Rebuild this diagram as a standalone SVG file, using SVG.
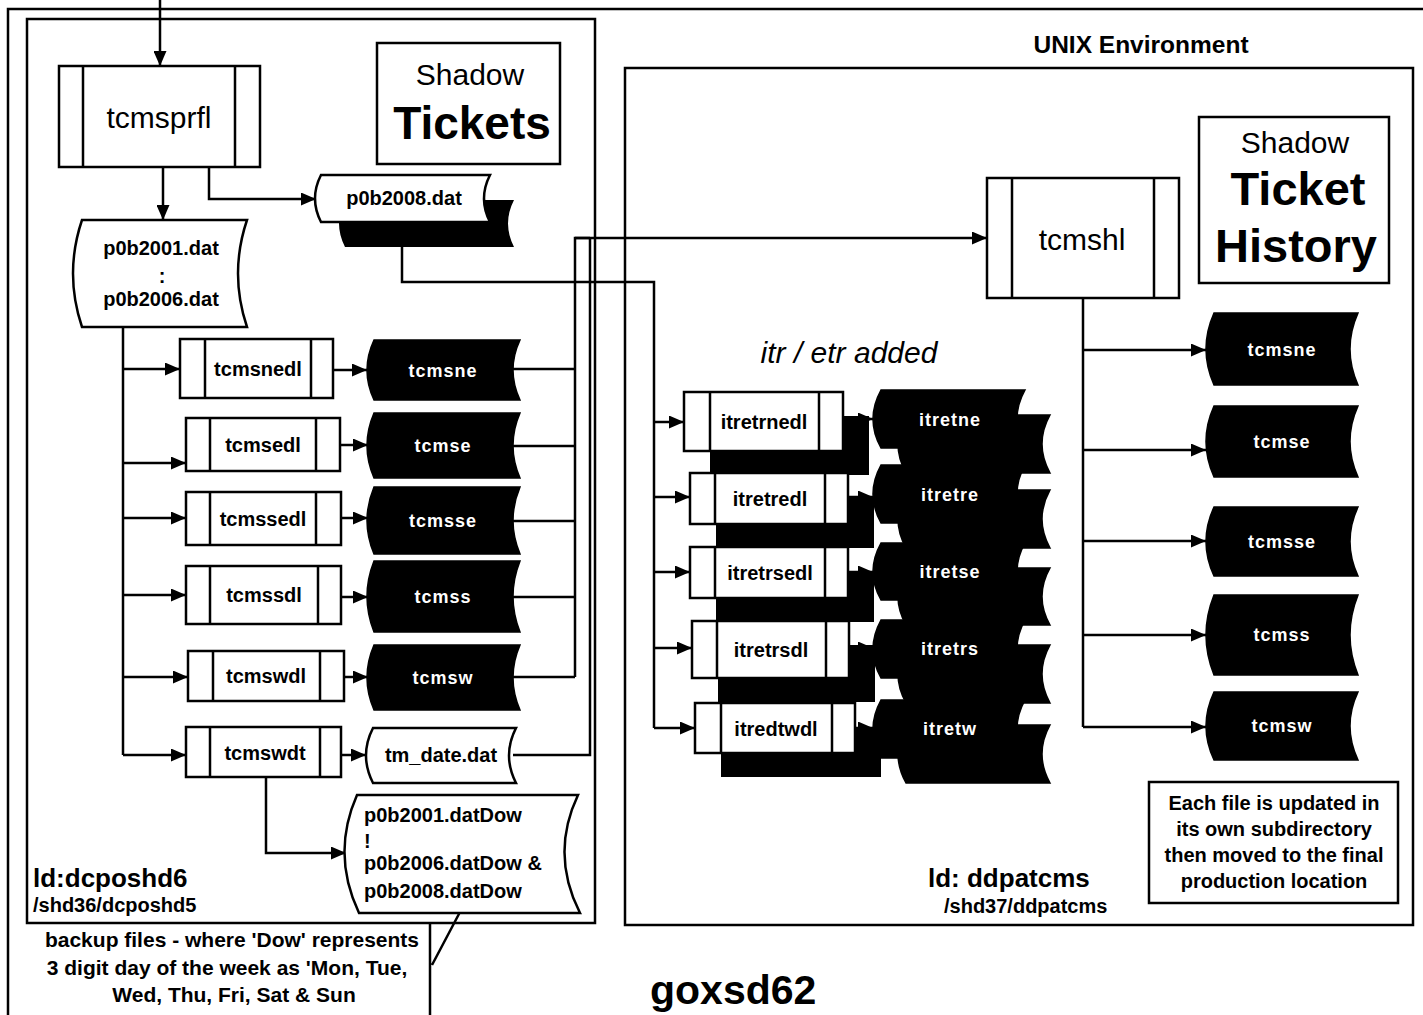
<svg xmlns="http://www.w3.org/2000/svg" width="1423" height="1015" viewBox="0 0 1423 1015">
<defs>
<marker id="ah" markerUnits="userSpaceOnUse" markerWidth="15" markerHeight="13" refX="15" refY="6.5" orient="auto"><path d="M0,0 L15,6.5 L0,13 Z" fill="#000"/></marker>
</defs>
<style>
.ln{stroke:#000;stroke-width:2.5;fill:none}
.ar{stroke:#000;stroke-width:2.5;fill:none;marker-end:url(#ah)}
.box{fill:#fff;stroke:#000;stroke-width:2.5}
.bar{stroke:#000;stroke-width:2.5}
.dk{fill:#000;stroke:#000;stroke-width:1.5}
.sh{fill:#000}
.t{font-family:"Liberation Sans",Arial,sans-serif;fill:#000}
.b{font-weight:bold}
.c{text-anchor:middle}
.w{fill:#fff;font-family:"Liberation Sans",Arial,sans-serif;font-weight:bold;font-size:18px;text-anchor:middle;letter-spacing:1px}
</style>
<rect x="0" y="0" width="1423" height="1015" fill="#fff"/>

<g id="frames">
<path class="ln" d="M8,1015 L8,9 L1423,9"/>
<rect id="left-env" class="ln" x="27" y="19" width="568" height="904"/>
<rect id="unix-env" class="ln" x="625" y="68" width="788" height="857"/>
<text class="t b c" x="1141" y="53" font-size="24.5">UNIX Environment</text>
</g>

<g id="connectors">
<path class="ar" d="M160,0 L160,66"/>
<path class="ar" d="M163,167 L163,220"/>
<path class="ar" d="M209,167 L209,199 L316,199"/>
<path class="ln" d="M402,247 L402,282 L654,282 L654,728"/>
<path class="ar" d="M654,422 L684,422"/>
<path class="ar" d="M654,497 L690,497"/>
<path class="ar" d="M654,572 L690,572"/>
<path class="ar" d="M654,648 L692,648"/>
<path class="ar" d="M654,728 L695,728"/>
<path class="ln" d="M123,328 L123,755"/>
<path class="ar" d="M123,369 L180,369"/>
<path class="ar" d="M123,463 L186,463"/>
<path class="ar" d="M123,518 L186,518"/>
<path class="ar" d="M123,595 L186,595"/>
<path class="ar" d="M123,677 L188,677"/>
<path class="ar" d="M123,755 L186,755"/>
<path class="ar" d="M333,370 L367,370"/>
<path class="ar" d="M340,445 L368,445"/>
<path class="ar" d="M341,518 L368,518"/>
<path class="ar" d="M341,597 L368,597"/>
<path class="ar" d="M344,677 L368,677"/>
<path class="ar" d="M341,755 L366,755"/>
<path class="ln" d="M513,369 L575,369 M513,446 L575,446 M513,521 L575,521 M513,597 L575,597 M513,677 L575,677"/>
<path class="ln" d="M575,677 L575,238 L590,238 M590,238 L590,755 L513,755"/>
<path class="ar" d="M575,238 L987,238"/>
<path class="ar" d="M266,777 L266,853 L346,853"/>
<path class="ln" d="M430,923 L430,1015 M460,912 L432,965"/>
<path class="ln" d="M1083,298 L1083,727"/>
<path class="ar" d="M1083,350 L1206,350"/>
<path class="ar" d="M1083,450 L1206,450"/>
<path class="ar" d="M1083,541 L1206,541"/>
<path class="ar" d="M1083,635 L1206,635"/>
<path class="ar" d="M1083,727 L1206,727"/>
<path class="ar" d="M843,419 L873,419"/>
<path class="ar" d="M848,497 L873,497"/>
<path class="ar" d="M848,572 L873,572"/>
<path class="ar" d="M849,648 L873,648"/>
<path class="ar" d="M855,728 L873,728"/>
</g>

<g id="title-shadow-tickets">
<rect class="box" x="377" y="43" width="183" height="121"/>
<text class="t c" x="470" y="85" font-size="30">Shadow</text>
<text class="t b c" x="472" y="139" font-size="46">Tickets</text>
</g>

<g id="tcmsprfl">
<rect class="box" x="59" y="66" width="201" height="101"/>
<path class="bar" d="M83,66 V167 M235,66 V167"/>
<text class="t c" x="159" y="128" font-size="30">tcmsprfl</text>
</g>

<g id="p0b2008-dat">
<path class="sh" d="M345,200 L514,200 Q502,223.5 514,247 L345,247 Q333,223.5 345,200 Z"/>
<path class="box" d="M321,175 L490,175 Q478,198.5 490,222 L321,222 Q309,198.5 321,175 Z"/>
<text class="t b c" x="404" y="205" font-size="20">p0b2008.dat</text>
</g>

<g id="p0b2001-dat">
<path class="box" d="M82,220 L247,220 Q229,273.5 247,327 L82,327 Q64,273.5 82,220 Z"/>
<text class="t b c" x="161" y="255" font-size="20">p0b2001.dat</text>
<text class="t b c" x="162" y="283" font-size="20">:</text>
<text class="t b c" x="161" y="306" font-size="20">p0b2006.dat</text>
</g>

<g id="tcmsnedl">
<rect class="box" x="180" y="339" width="153" height="59"/>
<path class="bar" d="M205,339 V398 M311,339 V398"/>
<text class="t b c" x="258" y="376" font-size="20">tcmsnedl</text>
</g>
<g id="tcmsne-file">
<path class="dk" d="M374,340 L520,340 Q506,370 520,400 L374,400 Q360,370 374,340 Z"/>
<text class="w" x="443" y="377">tcmsne</text>
</g>

<g id="tcmsedl">
<rect class="box" x="186" y="418" width="154" height="53"/>
<path class="bar" d="M210,418 V471 M316,418 V471"/>
<text class="t b c" x="263" y="452" font-size="20">tcmsedl</text>
</g>
<g id="tcmse-file">
<path class="dk" d="M374,413 L520,413 Q506,445.5 520,478 L374,478 Q360,445.5 374,413 Z"/>
<text class="w" x="443" y="452">tcmse</text>
</g>

<g id="tcmssedl">
<rect class="box" x="186" y="492" width="155" height="53"/>
<path class="bar" d="M210,492 V545 M316,492 V545"/>
<text class="t b c" x="263" y="526" font-size="20">tcmssedl</text>
</g>
<g id="tcmsse-file">
<path class="dk" d="M374,487 L520,487 Q506,520.5 520,554 L374,554 Q360,520.5 374,487 Z"/>
<text class="w" x="443" y="527">tcmsse</text>
</g>

<g id="tcmssdl">
<rect class="box" x="186" y="566" width="155" height="58"/>
<path class="bar" d="M210,566 V624 M318,566 V624"/>
<text class="t b c" x="264" y="602" font-size="20">tcmssdl</text>
</g>
<g id="tcmss-file">
<path class="dk" d="M374,561 L520,561 Q506,596.5 520,632 L374,632 Q360,596.5 374,561 Z"/>
<text class="w" x="443" y="603">tcmss</text>
</g>

<g id="tcmswdl">
<rect class="box" x="188" y="651" width="156" height="50"/>
<path class="bar" d="M213,651 V701 M320,651 V701"/>
<text class="t b c" x="266" y="683" font-size="20">tcmswdl</text>
</g>
<g id="tcmsw-file">
<path class="dk" d="M374,645 L520,645 Q506,677.5 520,710 L374,710 Q360,677.5 374,645 Z"/>
<text class="w" x="443" y="684">tcmsw</text>
</g>

<g id="tcmswdt">
<rect class="box" x="186" y="727" width="155" height="50"/>
<path class="bar" d="M210,727 V777 M320,727 V777"/>
<text class="t b c" x="265" y="760" font-size="20">tcmswdt</text>
</g>
<g id="tm-date-dat">
<path class="box" d="M373,728 L516,728 Q502,755.5 516,783 L373,783 Q359,755.5 373,728 Z"/>
<text class="t b c" x="441" y="762" font-size="20">tm_date.dat</text>
</g>

<g id="backup-files">
<path class="box" d="M357,795 L578,795 Q550,854 580,913 L359,913 Q331,854 357,795 Z"/>
<text class="t b" x="364" y="822" font-size="20">p0b2001.datDow</text>
<text class="t b" x="364" y="848" font-size="20">!</text>
<text class="t b" x="364" y="870" font-size="20">p0b2006.datDow &amp;</text>
<text class="t b" x="364" y="898" font-size="20">p0b2008.datDow</text>
</g>

<g id="left-labels">
<text class="t b" x="33" y="887" font-size="26">ld:dcposhd6</text>
<text class="t b" x="33" y="912" font-size="20">/shd36/dcposhd5</text>
<text class="t b c" x="232" y="947" font-size="21">backup files - where 'Dow' represents</text>
<text class="t b c" x="227" y="975" font-size="21">3 digit day of the week as 'Mon, Tue,</text>
<text class="t b c" x="234" y="1002" font-size="21">Wed, Thu, Fri, Sat &amp; Sun</text>
<text class="t b" x="650" y="1004" font-size="41">goxsd62</text>
</g>

<g id="title-shadow-ticket-history">
<rect class="box" x="1199" y="117" width="190" height="166"/>
<text class="t c" x="1295" y="153" font-size="30">Shadow</text>
<text class="t b c" x="1298" y="205" font-size="47">Ticket</text>
<text class="t b c" x="1296" y="262" font-size="47">History</text>
</g>

<g id="tcmshl">
<rect class="box" x="987" y="178" width="192" height="120"/>
<path class="bar" d="M1012,178 V298 M1154,178 V298"/>
<text class="t c" x="1082" y="250" font-size="30">tcmshl</text>
</g>

<text class="t c" x="849" y="363" font-size="30" font-style="italic">itr / etr added</text>

<g id="itretrnedl">
<rect class="sh" x="710" y="416" width="159" height="59"/>
<rect class="box" x="684" y="392" width="159" height="59"/>
<path class="bar" d="M710,392 V451 M819,392 V451"/>
<text class="t b c" x="764" y="429" font-size="20">itretrnedl</text>
</g>
<g id="itretne-file">
<path class="dk" d="M906,415 L1050,415 Q1034,444 1050,473 L906,473 Q890,444 906,415 Z"/>
<path class="dk" d="M881,390 L1025,390 Q1009,419 1025,448 L881,448 Q865,419 881,390 Z"/>
<text class="w" x="950" y="426">itretne</text>
</g>

<g id="itretredl">
<rect class="sh" x="716" y="497" width="158" height="51"/>
<rect class="box" x="690" y="473" width="158" height="51"/>
<path class="bar" d="M715,473 V524 M825,473 V524"/>
<text class="t b c" x="770" y="506" font-size="20">itretredl</text>
</g>
<g id="itretre-file">
<path class="dk" d="M906,490 L1050,490 Q1034,519 1050,548 L906,548 Q890,519 906,490 Z"/>
<path class="dk" d="M881,465 L1025,465 Q1009,494 1025,523 L881,523 Q865,494 881,465 Z"/>
<text class="w" x="950" y="501">itretre</text>
</g>

<g id="itretrsedl">
<rect class="sh" x="716" y="571" width="158" height="51"/>
<rect class="box" x="690" y="547" width="158" height="51"/>
<path class="bar" d="M715,547 V598 M825,547 V598"/>
<text class="t b c" x="770" y="580" font-size="20">itretrsedl</text>
</g>
<g id="itretse-file">
<path class="dk" d="M906,568 L1050,568 Q1034,596.5 1050,625 L906,625 Q890,596.5 906,568 Z"/>
<path class="dk" d="M881,543 L1025,543 Q1009,571.5 1025,600 L881,600 Q865,571.5 881,543 Z"/>
<text class="w" x="950" y="578">itretse</text>
</g>

<g id="itretrsdl">
<rect class="sh" x="718" y="645" width="157" height="57"/>
<rect class="box" x="692" y="621" width="157" height="57"/>
<path class="bar" d="M717,621 V678 M826,621 V678"/>
<text class="t b c" x="771" y="657" font-size="20">itretrsdl</text>
</g>
<g id="itretrs-file">
<path class="dk" d="M906,645 L1050,645 Q1034,674 1050,703 L906,703 Q890,674 906,645 Z"/>
<path class="dk" d="M881,620 L1025,620 Q1009,649 1025,678 L881,678 Q865,649 881,620 Z"/>
<text class="w" x="950" y="655">itretrs</text>
</g>

<g id="itredtwdl">
<rect class="sh" x="721" y="727" width="160" height="50"/>
<rect class="box" x="695" y="703" width="160" height="50"/>
<path class="bar" d="M721,703 V753 M832,703 V753"/>
<text class="t b c" x="776" y="736" font-size="20">itredtwdl</text>
</g>
<g id="itretw-file">
<path class="dk" d="M906,725 L1050,725 Q1034,754 1050,783 L906,783 Q890,754 906,725 Z"/>
<path class="dk" d="M881,700 L1025,700 Q1009,729 1025,758 L881,758 Q865,729 881,700 Z"/>
<text class="w" x="950" y="735">itretw</text>
</g>

<g id="hist-file-1">
<path class="dk" d="M1214,313 L1358,313 Q1342,349 1358,385 L1214,385 Q1198,349 1214,313 Z"/>
<text class="w" x="1282" y="356">tcmsne</text>
</g>
<g id="hist-file-2">
<path class="dk" d="M1214,406 L1358,406 Q1342,441.5 1358,477 L1214,477 Q1198,441.5 1214,406 Z"/>
<text class="w" x="1282" y="448">tcmse</text>
</g>
<g id="hist-file-3">
<path class="dk" d="M1214,507 L1358,507 Q1342,541.5 1358,576 L1214,576 Q1198,541.5 1214,507 Z"/>
<text class="w" x="1282" y="548">tcmsse</text>
</g>
<g id="hist-file-4">
<path class="dk" d="M1214,595 L1358,595 Q1342,635 1358,675 L1214,675 Q1198,635 1214,595 Z"/>
<text class="w" x="1282" y="641">tcmss</text>
</g>
<g id="hist-file-5">
<path class="dk" d="M1214,692 L1358,692 Q1342,726 1358,760 L1214,760 Q1198,726 1214,692 Z"/>
<text class="w" x="1282" y="732">tcmsw</text>
</g>

<g id="note">
<rect class="box" x="1149" y="782" width="249" height="121"/>
<text class="t b c" x="1274" y="810" font-size="20">Each file is updated in</text>
<text class="t b c" x="1274" y="836" font-size="20">its own subdirectory</text>
<text class="t b c" x="1274" y="862" font-size="20">then moved to the final</text>
<text class="t b c" x="1274" y="888" font-size="20">production location</text>
</g>

<g id="unix-labels">
<text class="t b" x="928" y="887" font-size="26">ld: ddpatcms</text>
<text class="t b" x="944" y="913" font-size="20">/shd37/ddpatcms</text>
</g>
</svg>
